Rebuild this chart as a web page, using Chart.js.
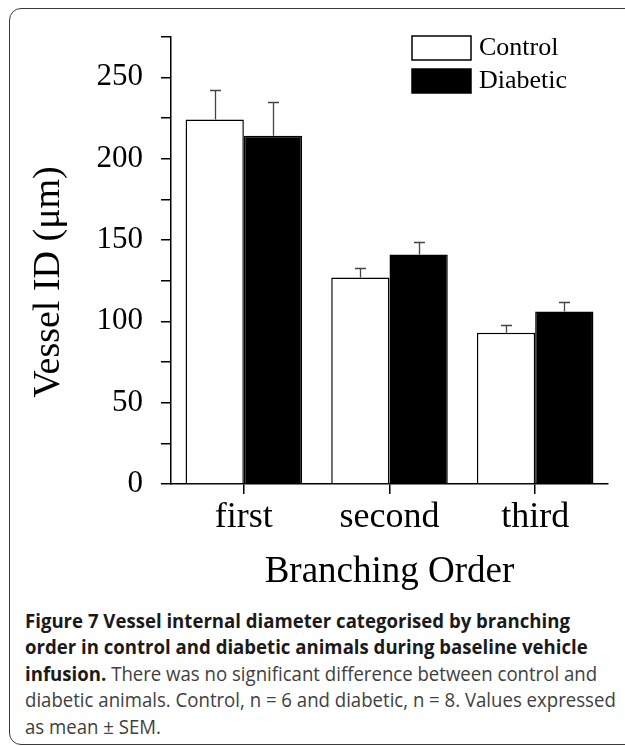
<!DOCTYPE html>
<html>
<head>
<meta charset="utf-8">
<script src="https://cdn.jsdelivr.net/npm/chart.js@4.4.1/dist/chart.umd.min.js"></script>
<style>
  html, body { margin: 0; padding: 0; background: #fff; }
  #wrap { position: relative; width: 625px; height: 746px; overflow: hidden; }
  #frame { position: absolute; left: 9px; top: 8px; width: 660px; height: 737px; border: 1.5px solid #3c3c3c; border-radius: 12px; box-sizing: border-box; }
  #chart { position: absolute; left: 0; top: 0; }
  #caption { position: absolute; left: 25px; top: 608px; font-family: 'Open Sans', sans-serif; font-size: 20px; line-height: 26.4px; color: #404040; white-space: nowrap; transform: scaleX(0.93); transform-origin: 0 0; }
  #caption b { color: #1a1a1a; font-weight: 700; }
</style>
</head>
<body>
<div id="wrap">
  <div id="frame"></div>
  <canvas id="chart" width="625" height="600"></canvas>
  <div id="caption">
    <div><b>Figure 7 Vessel internal diameter categorised by branching</b></div>
    <div><b>order in control and diabetic animals during baseline vehicle</b></div>
    <div><b>infusion.</b> There was no significant difference between control and</div>
    <div>diabetic animals. Control, n = 6 and diabetic, n = 8. Values expressed</div>
    <div>as mean ± SEM.</div>
  </div>
</div>
<script>
const categories = ['first', 'second', 'third']
const seriesLabels = ['Control', 'Diabetic']
const controlValues = [224, 127, 93]
const diabeticValues = [214, 141, 106]
const controlSem = [18, 6, 5]
const diabeticSem = [21, 8, 6]
const yTickLabels = [0, 50, 100, 150, 200, 250]
const yTitle = 'Vessel ID (μm)'
const xTitle = 'Branching Order'

const serif = "'Liberation Serif', 'Times New Roman', serif"

// error bars (upper half only, like the original)
const errorBars = {
  id: 'errorBars',
  afterDatasetsDraw(chart) {
    const { ctx } = chart
    const y = chart.scales.y
    ctx.save()
    ctx.strokeStyle = '#444'
    ctx.lineWidth = 1.3
    chart.data.datasets.forEach((ds, i) => {
      chart.getDatasetMeta(i).data.forEach((bar, j) => {
        const top = Math.round(y.getPixelForValue(ds.data[j] + ds.sem[j])) + 0.5
        const x = Math.round(bar.x) + 0.5
        ctx.beginPath()
        ctx.moveTo(x, bar.y)
        ctx.lineTo(x, top)
        ctx.moveTo(x - 5.5, top)
        ctx.lineTo(x + 5.5, top)
        ctx.stroke()
      })
    })
    ctx.restore()
  }
}

// legend box in the top right of the plot
const boxLegend = {
  id: 'boxLegend',
  afterDraw(chart) {
    const { ctx } = chart
    ctx.save()
    ctx.font = '26px ' + serif
    ctx.textBaseline = 'middle'
    ctx.textAlign = 'left'
    chart.data.datasets.forEach((ds, i) => {
      const top = 36 + i * 33
      ctx.fillStyle = ds.backgroundColor
      ctx.fillRect(412, top, 59, 24)
      ctx.strokeStyle = '#000'
      ctx.lineWidth = 1.5
      ctx.strokeRect(412, top, 59, 24)
      ctx.fillStyle = '#000'
      ctx.fillText(ds.label, 479, top + 12)
    })
    ctx.restore()
  }
}

// y title sits a bit below the axis middle in the original
const yAxisTitle = {
  id: 'yAxisTitle',
  afterDraw(chart) {
    const { ctx } = chart
    ctx.save()
    ctx.translate(49, 282)
    ctx.rotate(-Math.PI / 2)
    ctx.font = '38px ' + serif
    ctx.fillStyle = '#000'
    ctx.textAlign = 'center'
    ctx.textBaseline = 'middle'
    ctx.fillText(yTitle, 0, 0)
    ctx.restore()
  }
}

new Chart(document.getElementById('chart'), {
  type: 'bar',
  data: {
    labels: categories,
    datasets: [
      {
        label: seriesLabels[0],
        data: controlValues,
        sem: controlSem,
        backgroundColor: '#ffffff',
        borderColor: '#000',
        borderWidth: 1.5,
      },
      {
        label: seriesLabels[1],
        data: diabeticValues,
        sem: diabeticSem,
        backgroundColor: '#000000',
        borderColor: '#000',
        borderWidth: 1.5,
      },
    ],
  },
  options: {
    responsive: false,
    animation: false,
    datasets: { bar: { categoryPercentage: 0.8, barPercentage: 1.0 } },
    layout: { padding: { left: 10, right: 17, top: 25, bottom: 6 } },
    plugins: { legend: { display: false }, tooltip: { enabled: false } },
    scales: {
      x: {
        offset: true,
        grid: { drawOnChartArea: false, tickLength: 10, offset: false, color: '#000', lineWidth: 1.5 },
        border: { color: '#000', width: 1.5 },
        ticks: { color: '#000', font: { family: serif, size: 36 }, padding: 2, maxRotation: 0 },
        title: { display: true, text: xTitle, color: '#000', font: { family: serif, size: 37 }, padding: 0 },
        afterFit: (s) => { s.height = 110 },
      },
      y: {
        min: 0,
        max: 275,
        grid: { drawOnChartArea: false, tickLength: 10, color: '#000', lineWidth: 1.5 },
        border: { color: '#000', width: 1.5 },
        ticks: {
          stepSize: 25,
          autoSkip: false,
          padding: 18,
          color: '#000',
          font: { family: serif, size: 31 },
          callback: (v) => (yTickLabels.includes(v) ? v : ''),
        },
        afterFit: (s) => { s.width = 161 },
      },
    },
  },
  plugins: [errorBars, boxLegend, yAxisTitle],
})
</script>
</body>
</html>
